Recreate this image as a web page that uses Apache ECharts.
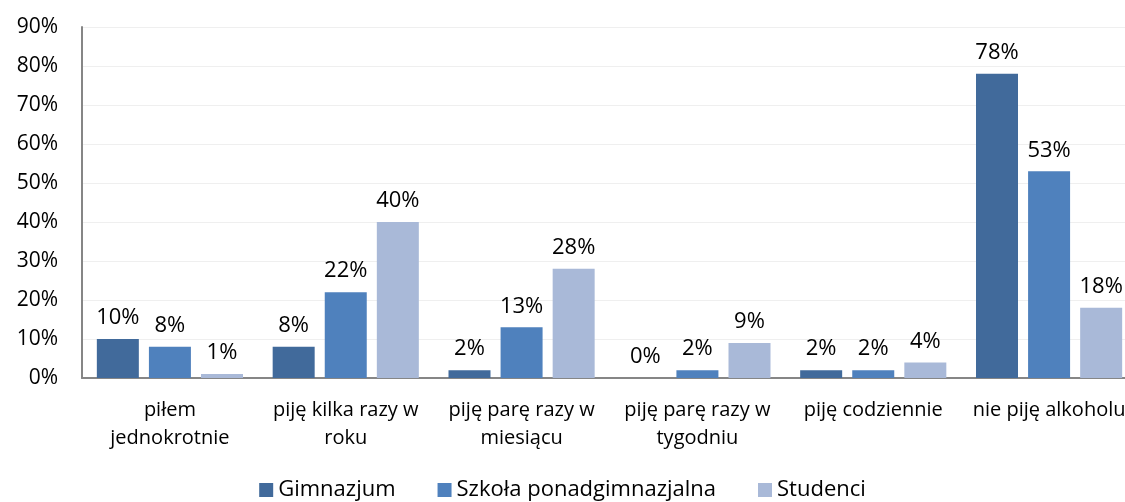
<!DOCTYPE html>
<html>
<head>
<meta charset="utf-8">
<script src="https://cdn.jsdelivr.net/npm/echarts@6/dist/echarts.min.js"></script>
<style>
  html, body { margin: 0; padding: 0; background: #fff; }
  #main { width: 1125px; height: 502px; }
</style>
</head>
<body>
<div id="main"></div>
<script>
var categories = ['piłem\njednokrotnie', 'piję kilka razy w\nroku', 'piję parę razy w\nmiesiącu',
  'piję parę razy w\ntygodniu', 'piję codziennie', 'nie piję alkoholu'];
var gimnazjum = [10, 8, 2, 0, 2, 78];
var szkola = [8, 22, 13, 2, 2, 53];
var studenci = [1, 40, 28, 9, 4, 18];
var seriesNames = ['Gimnazjum', 'Szkoła ponadgimnazjalna', 'Studenci'];

var chart = echarts.init(document.getElementById('main'));
var font = 'Open Sans';

function barSeries(name, data, color) {
  return {
    name: name,
    type: 'bar',
    data: data,
    barWidth: 42,
    barGap: '24%',
    itemStyle: { color: color },
    label: {
      show: true,
      position: 'top',
      distance: 10,
      formatter: '{c}%',
      color: '#000',
      fontSize: 22,
      fontFamily: font
    }
  };
}

var option = {
  backgroundColor: '#fff',
  animation: false,
  textStyle: { fontFamily: font },
  grid: {
    left: 82,
    top: 27,
    width: 1055,
    height: 351,
    outerBoundsMode: 'none'
  },
  legend: {
    bottom: -4,
    left: 'center',
    itemWidth: 14,
    itemHeight: 14,
    itemGap: 42,
    icon: 'rect',
    textStyle: { fontSize: 22, color: '#000', fontFamily: font },
    data: seriesNames
  },
  xAxis: {
    type: 'category',
    data: categories,
    axisLine: { lineStyle: { color: '#868686', width: 2 } },
    axisTick: { show: false },
    axisLabel: {
      color: '#000',
      fontSize: 20,
      lineHeight: 28,
      margin: 18,
      interval: 0,
      fontFamily: font
    }
  },
  yAxis: {
    type: 'value',
    min: 0,
    max: 90,
    interval: 10,
    axisLine: { show: true, lineStyle: { color: '#868686', width: 2 } },
    axisTick: { show: false },
    splitLine: { lineStyle: { color: '#efefef', width: 1 } },
    axisLabel: {
      formatter: '{value}%',
      color: '#000',
      fontSize: 21,
      margin: 24,
      fontFamily: font
    }
  },
  series: [
    barSeries(seriesNames[0], gimnazjum, '#416A9B'),
    barSeries(seriesNames[1], szkola, '#4F81BD'),
    barSeries(seriesNames[2], studenci, '#A9B9D8')
  ]
};

chart.setOption(option);
</script>
</body>
</html>
